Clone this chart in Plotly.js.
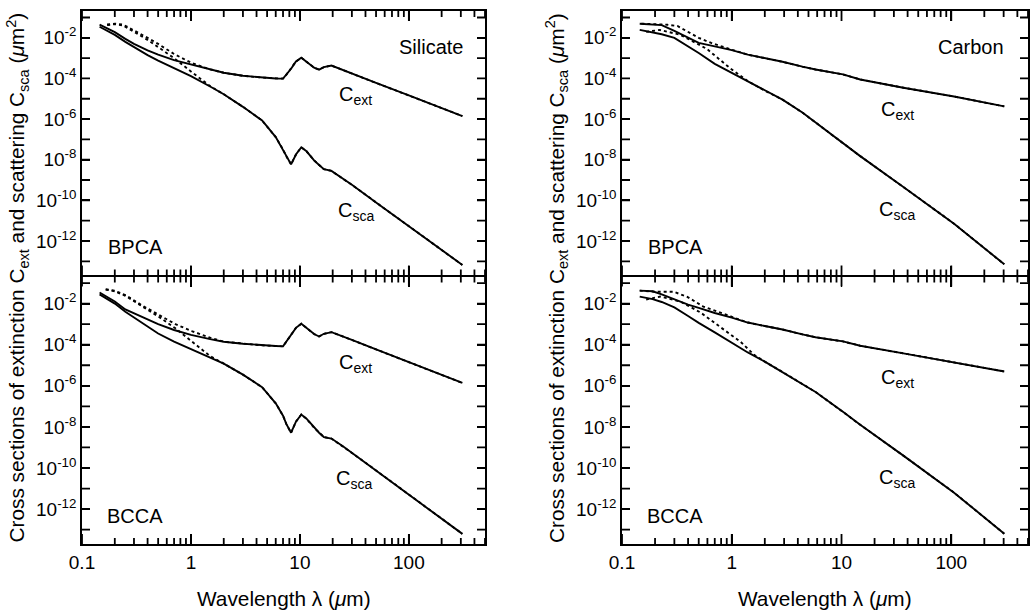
<!DOCTYPE html>
<html><head><meta charset="utf-8">
<script src="https://cdn.plot.ly/plotly-3.0.1.min.js"></script>
<style>html,body{margin:0;padding:0;background:#fff}#plot{width:1036px;height:614px}</style>
</head><body><div id="plot"></div>
<script>
// ---------- data (wavelength in micron, cross sections in micron^2) ----------
const silLam = [0.145,0.2,0.25,0.3,0.4,0.5,0.7,1.0,1.5,2.0,3.0,4.5,6.0,7.0,7.5,8.3,9.2,10.3,11.5,13.5,15,16.6,19.5,25,30,50,100,200,310];
const silBpcaExt = [4.5e-2,1.9e-2,8.9e-3,5.0e-3,2.4e-3,1.48e-3,7.9e-4,4.8e-4,2.7e-4,1.9e-4,1.35e-4,1.1e-4,1.0e-4,9.8e-5,1.5e-4,3.0e-4,6.8e-4,1.05e-3,6.6e-4,3.4e-4,2.7e-4,3.6e-4,4.3e-4,2.5e-4,1.74e-4,6.0e-5,1.45e-5,3.5e-6,1.41e-6];
const silBpcaSca = [3.5e-2,1.4e-2,6.3e-3,3.5e-3,1.4e-3,7.6e-4,3.2e-4,1.3e-4,4.0e-5,1.66e-5,4.0e-6,8.5e-7,1.3e-7,3.2e-8,1.48e-8,5.9e-9,1.8e-8,4.1e-8,2.6e-8,9.3e-9,5.5e-9,3.4e-9,2.8e-9,1.12e-9,5.8e-10,7.9e-11,5.2e-12,3.6e-13,6.6e-14];
const silBccaExt = [3.5e-2,1.26e-2,5.2e-3,3.3e-3,1.6e-3,1.0e-3,5.2e-4,3.0e-4,1.86e-4,1.4e-4,1.12e-4,9.3e-5,8.7e-5,8.3e-5,1.4e-4,2.9e-4,6.6e-4,1.05e-3,6.5e-4,3.3e-4,2.5e-4,3.4e-4,4.1e-4,2.4e-4,1.7e-4,5.9e-5,1.45e-5,3.5e-6,1.38e-6];
const silBccaSca = [2.8e-2,1.0e-2,4.0e-3,2.1e-3,7.1e-4,3.5e-4,1.4e-4,5.9e-5,2.4e-5,1.2e-5,3.5e-6,8.5e-7,1.4e-7,3.5e-8,1.4e-8,5.2e-9,1.8e-8,4.0e-8,2.5e-8,9.0e-9,5.2e-9,3.2e-9,2.7e-9,1.1e-9,5.4e-10,7.6e-11,5.0e-12,3.5e-13,6.2e-14];

const silBpcaDotLam = [0.17,0.2,0.24,0.3,0.4,0.5,0.7,1.0,1.5];
const silBpcaDotExt = [4.5e-2,5.0e-2,4.4e-2,2.4e-2,1.0e-2,5.0e-3,1.6e-3,6.0e-4,2.8e-4];
const silBpcaDotSca = [4.2e-2,4.7e-2,4.0e-2,2.0e-2,7.9e-3,3.5e-3,1.0e-3,2.2e-4,4.2e-5];
const silBccaDotLam = [0.165,0.2,0.25,0.36,0.51,0.72,1.03,1.5];
const silBccaDotExt = [5.0e-2,4.2e-2,2.6e-2,7.9e-3,2.8e-3,1.0e-3,4.5e-4,2.2e-4];
const silBccaDotSca = [4.8e-2,4.0e-2,2.4e-2,7.1e-3,2.24e-3,6.3e-4,1.4e-4,2.8e-5];

const carLam = [0.145,0.19,0.23,0.3,0.4,0.5,0.7,1.0,1.4,2.0,2.9,4.4,5.8,10.3,12,14.8,36.6,106,304];
const carBpcaExt = [4.9e-2,4.7e-2,4.2e-2,2.2e-2,1.05e-2,5.6e-3,3.8e-3,2.5e-3,1.48e-3,1.0e-3,6.6e-4,3.8e-4,2.75e-4,1.58e-4,1.26e-4,8.9e-5,3.5e-5,1.29e-5,4.2e-6];
const carBpcaSca = [2.45e-2,1.8e-2,1.5e-2,1.0e-2,3.8e-3,1.78e-3,5.2e-4,1.86e-4,7.4e-5,2.5e-5,9.1e-6,2.1e-6,6.8e-7,6.3e-8,3.5e-8,1.5e-8,4.5e-10,7.1e-12,7.1e-14];
const carBccaExt = [4.3e-2,4.0e-2,2.8e-2,1.55e-2,8.9e-3,6.2e-3,3.5e-3,2.1e-3,1.2e-3,8.1e-4,5.5e-4,3.2e-4,2.3e-4,1.45e-4,1.17e-4,8.9e-5,3.8e-5,1.41e-5,5.0e-6];
const carBccaSca = [2.2e-2,1.66e-2,1.2e-2,6.5e-3,2.5e-3,1.15e-3,4.0e-4,1.26e-4,4.2e-5,1.5e-5,4.7e-6,1.23e-6,5.0e-7,5.4e-8,2.9e-8,1.26e-8,4.0e-10,6.3e-12,6.3e-14];

const carBpcaDotExtLam = [0.15,0.2,0.26,0.32,0.4,0.5,0.65,0.8,1.0];
const carBpcaDotExt = [5.0e-2,4.7e-2,4.4e-2,3.8e-2,2.0e-2,1.0e-2,5.6e-3,3.8e-3,2.6e-3];
const carBpcaDotScaLam = [0.166,0.22,0.34,0.59,0.98,1.38];
const carBpcaDotSca = [1.95e-2,2.45e-2,1.41e-2,2.9e-3,3.0e-4,7.1e-5];
const carBccaDotExtLam = [0.145,0.2,0.294,0.39,0.55,0.79,1.0];
const carBccaDotExt = [4.3e-2,3.8e-2,3.8e-2,2.2e-2,7.2e-3,3.7e-3,2.24e-3];
const carBccaDotScaLam = [0.166,0.223,0.34,0.52,0.79,1.2,1.6];
const carBccaDotSca = [1.58e-2,2.2e-2,1.26e-2,3.7e-3,7.1e-4,1.41e-4,3.2e-5];

const xMajor = [0.1,1,10,100];
const xMajorText = ['0.1','1','10','100'];
const xMinor = [0.2,0.3,0.4,0.5,0.6,0.7,0.8,0.9,2,3,4,5,6,7,8,9,20,30,40,50,60,70,80,90,200,300,400,500];
const yMajor = [1e-12,1e-10,1e-8,1e-6,1e-4,1e-2];
const yMajorText = ['10<sup>-12</sup>','10<sup>-10</sup>','10<sup>-8</sup>','10<sup>-6</sup>','10<sup>-4</sup>','10<sup>-2</sup>'];
const yMinor = [1e-13,1e-11,1e-9,1e-7,1e-5,1e-3,1e-1];

// ---------- helpers ----------
const W = 1036, H = 614;
const FONT = 'Liberation Sans, Arial, Helvetica, sans-serif';
const XR = [-1, 2.699], YR = [-13.7, -0.68];   // log10 axis ranges
function joinTail(sx, sy, gx, gy) {
  const last = sx[sx.length - 1];
  const x = sx.slice(), y = sy.slice();
  gx.forEach((v, i) => { if (v > last) { x.push(v); y.push(gy[i]); } });
  return {x, y};
}
function line(x, y, xa, ya, dotted) {
  return {x, y, xaxis: xa, yaxis: ya, type: 'scatter', mode: 'lines', showlegend: false, hoverinfo: 'skip',
    line: {color: '#000', width: 1.9, dash: dotted ? 'dot' : 'solid'}};
}
function panel(lam, ext, sca, dExtX, dExtY, dScaX, dScaY, xa, ya) {
  const de = joinTail(dExtX, dExtY, lam, ext);
  const ds = joinTail(dScaX, dScaY, lam, sca);
  return [line(de.x, de.y, xa, ya, true), line(ds.x, ds.y, xa, ya, true),
          line(lam, ext, xa, ya, false), line(lam, sca, xa, ya, false)];
}
// inside tick marks on all four frame sides at the tick values, sized in pixels via the axis range
function tickTrace(xa, ya, pxW, pxH) {
  const dx = (XR[1] - XR[0]) / pxW, dy = (YR[1] - YR[0]) / pxH;
  const X = [], Y = [];
  xMajor.concat(xMinor).forEach(v => {
    const len = xMajor.indexOf(v) >= 0 ? 10 : 6;
    X.push(v, v, null, v, v, null);
    Y.push(Math.pow(10, YR[0]), Math.pow(10, YR[0] + len * dy), null, Math.pow(10, YR[1]), Math.pow(10, YR[1] - len * dy), null);
  });
  yMajor.concat(yMinor).forEach(v => {
    X.push(Math.pow(10, XR[0]), Math.pow(10, XR[0] + 8 * dx), null, Math.pow(10, XR[1]), Math.pow(10, XR[1] - 8 * dx), null);
    Y.push(v, v, null, v, v, null);
  });
  return {x: X, y: Y, xaxis: xa, yaxis: ya, type: 'scatter', mode: 'lines', showlegend: false, hoverinfo: 'skip',
    connectgaps: false, cliponaxis: false, line: {color: '#000', width: 1.8}};
}

const traces = [].concat(
  panel(silLam, silBccaExt, silBccaSca, silBccaDotLam, silBccaDotExt, silBccaDotLam, silBccaDotSca, 'x', 'y'),
  panel(silLam, silBpcaExt, silBpcaSca, silBpcaDotLam, silBpcaDotExt, silBpcaDotLam, silBpcaDotSca, 'x2', 'y2'),
  panel(carLam, carBccaExt, carBccaSca, carBccaDotExtLam, carBccaDotExt, carBccaDotScaLam, carBccaDotSca, 'x3', 'y3'),
  panel(carLam, carBpcaExt, carBpcaSca, carBpcaDotExtLam, carBpcaDotExt, carBpcaDotScaLam, carBpcaDotSca, 'x4', 'y4'),
  [tickTrace('x', 'y', 403, 267.5), tickTrace('x2', 'y2', 403, 264.5), tickTrace('x3', 'y3', 406, 267.5), tickTrace('x4', 'y4', 406, 264.5)]
);

// a hair of space between the stacked panels so the subplots do not touch
const dLeft = [82 / W, 485 / W], dRight = [622 / W, 1028 / W];
const dTop = [1 - 275.5 / H, 1 - 11 / H], dBot = [1 - 544 / H, 1 - 276.5 / H];

function xax(dom, anchor, labels) {
  return {type: 'log', range: XR, domain: dom, anchor: anchor,
    showline: true, linecolor: '#000', linewidth: 1.8, mirror: 'ticks',
    ticks: 'inside', ticklen: 10, tickwidth: 1.8, tickcolor: '#000',
    tickmode: 'array', tickvals: xMajor, ticktext: xMajorText, showticklabels: labels,
    showgrid: false, zeroline: false, tickfont: {family: FONT, size: 19, color: '#000'}};
}
function yax(dom, anchor) {
  return {type: 'log', range: YR, domain: dom, anchor: anchor,
    showline: true, linecolor: '#000', linewidth: 1.8, mirror: 'ticks',
    ticks: 'inside', ticklen: 8, tickwidth: 1.8, tickcolor: '#000',
    tickmode: 'array', tickvals: yMajor, ticktext: yMajorText,
    showgrid: false, zeroline: false, tickfont: {family: FONT, size: 19, color: '#000'}};
}

function ann(text, xp, yp, extra) {
  return Object.assign({text: text, x: xp / W, y: 1 - yp / H, xref: 'paper', yref: 'paper', showarrow: false,
    xanchor: 'center', yanchor: 'middle', font: {family: FONT, size: 20, color: '#000'}}, extra || {});
}
const yTitle = 'Cross sections of extinction C<sub>ext</sub> and scattering C<sub>sca</sub> (<i>μ</i>m<sup>2</sup>)';
const xTitle = 'Wavelength λ (<i>μ</i>m)';
const titleFont = {family: FONT, size: 20.8, color: '#000'};
const annotations = [
  ann(yTitle, 16.5, 278, {textangle: -90, font: titleFont}),
  ann(yTitle, 556, 278, {textangle: -90, font: titleFont}),
  ann(xTitle, 283.5, 598, {font: titleFont}),
  ann(xTitle, 825, 598, {font: titleFont}),
  ann('Silicate', 430.5, 47),
  ann('Carbon', 971, 47),
  ann('BPCA', 135, 247), ann('BCCA', 135, 516),
  ann('BPCA', 675, 247), ann('BCCA', 675, 516),
  ann('C<sub>ext</sub>', 355, 96), ann('C<sub>sca</sub>', 356, 212),
  ann('C<sub>ext</sub>', 355, 363), ann('C<sub>sca</sub>', 354, 479),
  ann('C<sub>ext</sub>', 897, 111), ann('C<sub>sca</sub>', 897, 211),
  ann('C<sub>ext</sub>', 897, 378), ann('C<sub>sca</sub>', 897, 478)
];

const layout = {
  width: W, height: H, margin: {l: 0, r: 0, t: 0, b: 0},
  paper_bgcolor: '#fff', plot_bgcolor: 'rgba(0,0,0,0)', showlegend: false,
  font: {family: FONT, color: '#000'},
  xaxis: xax(dLeft, 'y', true), yaxis: yax(dBot, 'x'),
  xaxis2: xax(dLeft, 'y2', false), yaxis2: yax(dTop, 'x2'),
  xaxis3: xax(dRight, 'y3', true), yaxis3: yax(dBot, 'x3'),
  xaxis4: xax(dRight, 'y4', false), yaxis4: yax(dTop, 'x4'),
  annotations: annotations
};
Plotly.newPlot('plot', traces, layout, {staticPlot: true, displayModeBar: false});
</script></body></html>
